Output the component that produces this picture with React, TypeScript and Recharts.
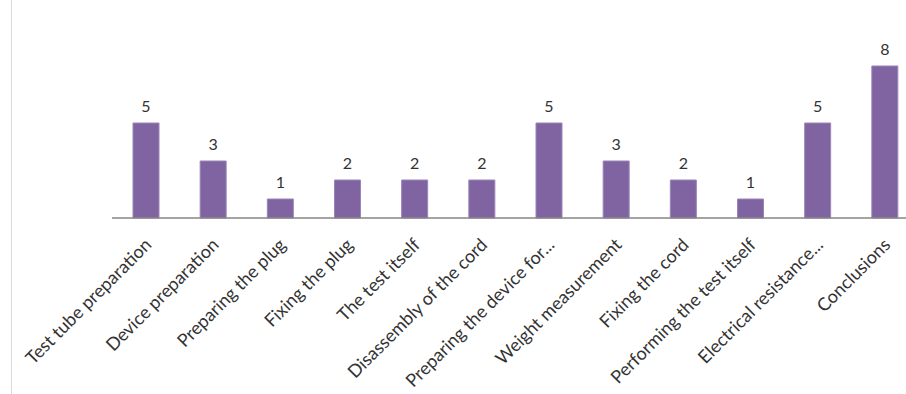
import { BarChart, Bar, XAxis, YAxis, LabelList } from 'recharts';

const categories = [
  'Test tube preparation',
  'Device preparation',
  'Preparing the plug',
  'Fixing the plug',
  'The test itself',
  'Disassembly of the cord',
  'Preparing the device for...',
  'Weight measurement',
  'Fixing the cord',
  'Performing the test itself',
  'Electrical resistance...',
  'Conclusions',
];
const counts = [5, 3, 1, 2, 2, 2, 5, 3, 2, 1, 5, 8];

const data = categories.map((name, i) => ({ name, value: counts[i] }));

const FONT = 'Lato, "Open Sans", sans-serif';

const AngledTick = ({ x, y, payload }: { x?: number; y?: number; payload?: { value: string } }) => {
  const tx = (x ?? 0) + 7;
  const ty = (y ?? 0) + 20;
  return (
    <text
      x={tx}
      y={ty}
      transform={`rotate(-45, ${tx}, ${ty})`}
      textAnchor="end"
      fill="#333333"
      fontSize={18}
      fontFamily={FONT}
    >
      {payload?.value}
    </text>
  );
};

export default function App() {
  return (
    <div style={{ position: 'fixed', left: 0, top: 0, width: 906, height: 394, overflow: 'hidden', background: '#fff' }}>
      <div style={{ position: 'absolute', left: 11, top: 0, width: 1, height: 394, background: '#d9d9d9' }} />
      <BarChart width={918} height={394} data={data} margin={{ top: 47, right: 0, bottom: 0, left: 112 }}>
        <XAxis
          dataKey="name"
          interval={0}
          height={176}
          tickLine={false}
          axisLine={{ stroke: '#868686', strokeWidth: 1.5 }}
          tick={<AngledTick />}
        />
        <YAxis hide domain={[0, 9]} />
        <Bar dataKey="value" fill="#8064A2" stroke="#9a84b8" strokeWidth={1} barSize={26} isAnimationActive={false}>
          <LabelList dataKey="value" position="top" offset={11} fill="#333333" fontSize={16} fontFamily={FONT} />
        </Bar>
      </BarChart>
    </div>
  );
}
